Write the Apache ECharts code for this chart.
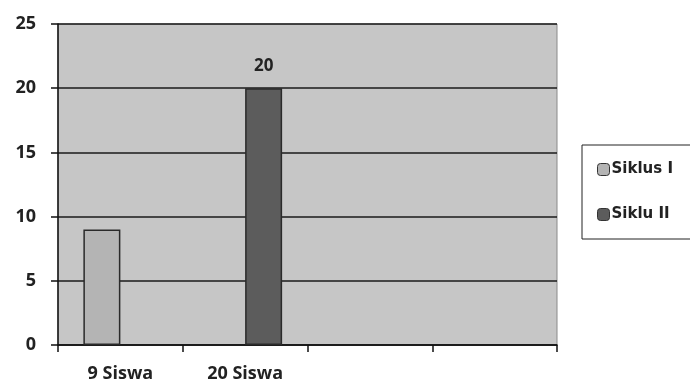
<!DOCTYPE html>
<html><head><meta charset="utf-8">
<script src="https://cdn.jsdelivr.net/npm/echarts@6/dist/echarts.min.js"></script>
<style>html,body{margin:0;padding:0;background:#fff}#c{width:690px;height:387px}</style>
</head><body><div id="c"></div>
<script>
var categories = ["9 Siswa", "20 Siswa", "", ""];
var siklus1 = [9, null, null, null];
var siklus2 = [null, 20, null, null];
var yTicks = [0, 5, 10, 15, 20, 25];

var chart = echarts.init(document.getElementById('c'));
chart.setOption({
  animation: false,
  backgroundColor: '#ffffff',
  grid: { left: 58, right: 133, top: 24, bottom: 42, show: true, backgroundColor: '#c6c6c6', borderColor: '#8a8a8a', borderWidth: 1 },
  legend: {
    orient: 'vertical', left: 582, top: 145,
    padding: [17, 40, 17, 15], itemGap: 30, itemWidth: 12, itemHeight: 12,
    borderColor: '#222', borderWidth: 1, backgroundColor: '#fff',
    textStyle: { fontFamily: 'DejaVu Sans', fontWeight: 'bold', fontSize: 15, color: '#222', padding: [0, 0, 0, -3] },
    data: [
      { name: 'Siklus I', itemStyle: { color: '#b4b4b4', borderColor: '#333', borderWidth: 1 } },
      { name: 'Siklu II', itemStyle: { color: '#5c5c5c', borderColor: '#333', borderWidth: 1 } }
    ]
  },
  xAxis: {
    type: 'category', data: categories,
    axisLine: { lineStyle: { color: '#111', width: 1.5 } },
    axisTick: { show: true, length: 7, lineStyle: { color: '#111', width: 1.5 } },
    axisLabel: { margin: 20, fontFamily: 'Open Sans', fontWeight: 'bold', fontSize: 18, color: '#222' }
  },
  yAxis: {
    type: 'value', min: 0, max: 25, interval: 5,
    axisLine: { show: true, lineStyle: { color: '#111', width: 1.5 } },
    axisTick: { show: true, length: 7, lineStyle: { color: '#111', width: 1.5 } },
    splitLine: { lineStyle: { color: '#1a1a1a', width: 1.5 } },
    axisLabel: { margin: 22, fontFamily: 'Open Sans', fontWeight: 'bold', fontSize: 18, color: '#222',
      formatter: function (v) { return yTicks.indexOf(v) >= 0 ? String(v) : ''; } }
  },
  series: [
    { name: 'Siklus I', type: 'bar', data: siklus1, barWidth: 37, barGap: '0%',
      itemStyle: { color: '#b4b4b4', borderColor: '#2a2a2a', borderWidth: 1.5 } },
    { name: 'Siklu II', type: 'bar', data: siklus2, barWidth: 37, barGap: '0%',
      itemStyle: { color: '#5c5c5c', borderColor: '#2a2a2a', borderWidth: 1.5 },
      label: { show: true, position: 'top', distance: 14, fontFamily: 'Open Sans', fontWeight: 'bold', fontSize: 17, color: '#222' } }
  ]
});
</script></body></html>
